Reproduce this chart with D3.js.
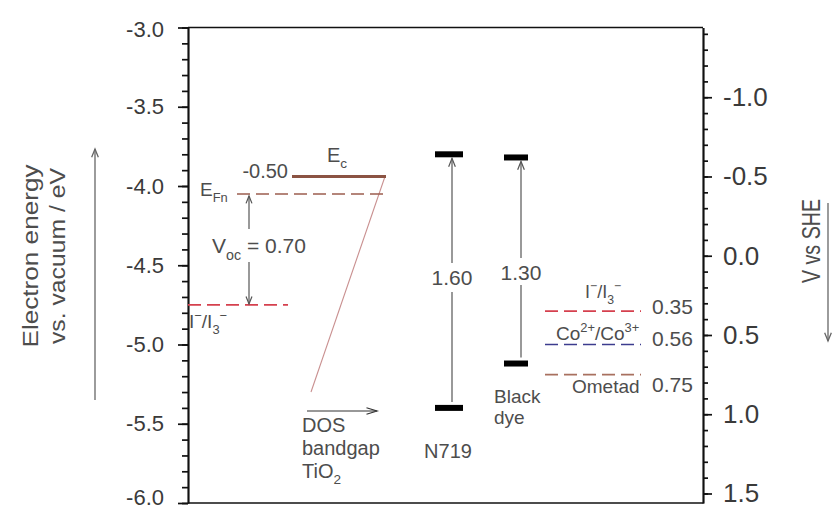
<!DOCTYPE html>
<html>
<head>
<meta charset="utf-8">
<script src="https://cdn.jsdelivr.net/npm/d3@7"></script>
<style>
  body { margin: 0; background: #fff; }
  svg { display: block; }
  text { font-family: "Liberation Sans", Arial, Helvetica, sans-serif; }
</style>
</head>
<body>
<svg id="chart" width="832" height="514"></svg>
<script>
// ---- values ----
const energyDomain = [-3.0, -6.0];              // eV vs vacuum
const energyMajorTicks = [-3.0, -3.5, -4.0, -4.5, -5.0, -5.5, -6.0];
const sheMajorTicks = [-1.0, -0.5, 0.0, 0.5, 1.0, 1.5];
const sheOffset = 4.44;                          // E(vacuum) = -V(SHE) - 4.44

const tio2EcSHE = -0.50;                         // conduction band edge, V vs SHE
const tio2QuasiFermi = -4.05;                    // E_Fn, eV
const vocValue = 0.70;                           // V_oc, eV below E_Fn
const dosBottomEnergy = -5.30;                   // lower end of the DOS sketch

const dyeNames = ["N719", "Black dye"];
const dyeLumo = [-3.80, -3.82];
const dyeGap = [1.60, 1.30];

const mediatorKeys = ["iodide", "cobalt", "ometad"];
const mediatorSHE = [0.35, 0.56, 0.75];
const mediatorColors = ["#d5404e", "#3c3c8e", "#a8705f"];

// ---- layout ----
const W = 832, H = 514;
const plot = { left: 188, right: 703, top: 27.5, bottom: 503 };
const textColor = "#4d4d4d";

const svg = d3.select("#chart");

const y = d3.scaleLinear().domain(energyDomain).range([plot.top, plot.bottom]);
const toSHE = e => -e - sheOffset;
const toEnergy = v => -v - sheOffset;
const ySHE = d3.scaleLinear().domain(energyDomain.map(toSHE)).range([plot.top, plot.bottom]);

// ---- helpers ----
function richText(g, x, yBase, parts, opts = {}) {
  const size = opts.size || 20;
  const t = g.append("text")
    .attr("x", x).attr("y", yBase)
    .attr("font-size", size)
    .attr("fill", opts.fill || textColor)
    .attr("text-anchor", opts.anchor || "start");
  let shift = 0;
  parts.forEach(p => {
    let target = 0, fs = size;
    if (p.sub) { target = size * 0.32; fs = size * 0.68; }
    if (p.sup) { target = -size * 0.42; fs = size * 0.68; }
    t.append("tspan")
      .attr("dy", target - shift)
      .attr("font-size", fs)
      .text(p.t);
    shift = target;
  });
  return t;
}

function arrow(g, x1, y1, x2, y2, opts = {}) {
  const color = opts.color || "#555";
  const head = opts.head || 9;
  const spread = opts.spread || 0.38;
  g.append("line").attr("x1", x1).attr("y1", y1).attr("x2", x2).attr("y2", y2)
    .attr("stroke", color).attr("stroke-width", opts.width || 1.2);
  const ang = Math.atan2(y2 - y1, x2 - x1);
  const p = a => [x2 - head * Math.cos(a), y2 - head * Math.sin(a)];
  const a1 = p(ang + spread), a2 = p(ang - spread);
  g.append("path")
    .attr("d", `M${a1[0]},${a1[1]}L${x2},${y2}L${a2[0]},${a2[1]}`)
    .attr("fill", "none").attr("stroke", color).attr("stroke-width", opts.width || 1.2);
}

// ---- axes ----
const axisColor = "#111";
const leftMinor = d3.range(0, 31).map(i => -3.0 - i * 0.1);
const rightMinor = d3.range(-14, 16).map(i => i / 10);

const gLeftMinor = svg.append("g").attr("transform", `translate(${plot.left},0)`)
  .call(d3.axisLeft(y).tickValues(leftMinor).tickSize(6).tickSizeOuter(0).tickFormat(""));
const gLeft = svg.append("g").attr("transform", `translate(${plot.left},0)`)
  .call(d3.axisLeft(y).tickValues(energyMajorTicks).tickSize(10).tickSizeOuter(0)
    .tickPadding(14).tickFormat(d => d.toFixed(1)));

const gRightMinor = svg.append("g").attr("transform", `translate(${plot.right},0)`)
  .call(d3.axisRight(ySHE).tickValues(rightMinor).tickSize(5).tickSizeOuter(0).tickFormat(""));
const gRight = svg.append("g").attr("transform", `translate(${plot.right},0)`)
  .call(d3.axisRight(ySHE).tickValues(sheMajorTicks).tickSize(9).tickSizeOuter(0)
    .tickPadding(11).tickFormat(d => d.toFixed(1)));

[gLeftMinor, gLeft, gRightMinor, gRight].forEach(g => {
  g.selectAll("path.domain").attr("stroke", axisColor).attr("stroke-width", 1.7);
  g.selectAll(".tick line").attr("stroke", axisColor).attr("stroke-width", 1.7);
});
gLeft.selectAll("text").attr("font-size", 22).attr("fill", "#3a3a3a")
  .attr("font-family", '"Liberation Sans", Arial, sans-serif');
// keep the top and bottom labels inside the frame height
gLeft.selectAll(".tick text").filter(d => d === energyDomain[1]).attr("dy", "0.05em");
gLeft.selectAll(".tick text").filter(d => d === energyDomain[0]).attr("dy", "0.42em");
gRight.selectAll("text").attr("font-size", 26).attr("fill", "#3a3a3a")
  .attr("font-family", '"Liberation Sans", Arial, sans-serif');

// frame top and bottom
svg.append("line").attr("x1", plot.left).attr("x2", plot.right)
  .attr("y1", plot.top).attr("y2", plot.top).attr("stroke", axisColor).attr("stroke-width", 1.7);
svg.append("line").attr("x1", plot.left).attr("x2", plot.right)
  .attr("y1", plot.bottom).attr("y2", plot.bottom).attr("stroke", axisColor).attr("stroke-width", 1.7);

// axis titles
const titles = svg.append("g").attr("fill", textColor);
titles.append("text").attr("transform", "translate(38,256) rotate(-90)")
  .attr("text-anchor", "middle").attr("font-size", 22).attr("fill", textColor)
  .attr("textLength", 183).attr("lengthAdjust", "spacingAndGlyphs")
  .text("Electron energy");
titles.append("text").attr("transform", "translate(65,256) rotate(-90)")
  .attr("text-anchor", "middle").attr("font-size", 22).attr("fill", textColor)
  .attr("textLength", 176).attr("lengthAdjust", "spacingAndGlyphs")
  .text("vs. vacuum / eV");
arrow(titles, 95, 400, 95, 149, { color: "#666", width: 1.3 });

titles.append("text").attr("transform", "translate(820,241) rotate(-90)")
  .attr("text-anchor", "middle").attr("font-size", 25).attr("fill", textColor)
  .attr("textLength", 84).attr("lengthAdjust", "spacingAndGlyphs")
  .text("V vs SHE");
arrow(titles, 828, 203, 828, 341, { color: "#666", width: 1.3 });

// ---- TiO2 side ----
const g = svg.append("g");
const yEc = y(toEnergy(tio2EcSHE));
const yEFn = y(tio2QuasiFermi);
const yRedox = y(tio2QuasiFermi - vocValue);

// density-of-states sketch below the band edge
g.append("line").attr("x1", 385).attr("y1", yEc).attr("x2", 311).attr("y2", y(dosBottomEnergy))
  .attr("stroke", "#c99090").attr("stroke-width", 1.1);

g.append("line").attr("x1", 292).attr("x2", 386).attr("y1", yEc).attr("y2", yEc)
  .attr("stroke", "#8b5343").attr("stroke-width", 3);
g.append("line").attr("x1", 237).attr("x2", 383).attr("y1", yEFn).attr("y2", yEFn)
  .attr("stroke", "#9c5d4f").attr("stroke-width", 1.6).attr("stroke-dasharray", "13,6");
g.append("line").attr("x1", plot.left).attr("x2", 288).attr("y1", yRedox).attr("y2", yRedox)
  .attr("stroke", mediatorColors[0]).attr("stroke-width", 1.7).attr("stroke-dasharray", "13,6");

richText(g, 288, 178, [{ t: tio2EcSHE.toFixed(2) }], { size: 20, anchor: "end" });
richText(g, 327, 162, [{ t: "E" }, { t: "c", sub: true }], { size: 20 });
richText(g, 200, 196, [{ t: "E" }, { t: "Fn", sub: true }], { size: 19 });
richText(g, 189, 328, [{ t: "I" }, { t: "−", sup: true }, { t: "/I" }, { t: "3", sub: true }, { t: "−", sup: true }], { size: 19 });

// open-circuit voltage arrows
const xVoc = 249;
arrow(g, xVoc, 229, xVoc, yEFn + 2, { head: 8 });
arrow(g, xVoc, 262, xVoc, yRedox - 1, { head: 8 });
richText(g, 212, 253, [{ t: "V" }, { t: "oc", sub: true }, { t: " = " + vocValue.toFixed(2) }], { size: 21 });

// DOS arrow and caption
arrow(g, 307, 411, 377, 411, { head: 11, spread: 0.3, color: "#333" });
richText(g, 302, 432, [{ t: "DOS" }], { size: 20 });
richText(g, 302, 455, [{ t: "bandgap" }], { size: 20 });
richText(g, 302, 478, [{ t: "TiO" }, { t: "2", sub: true }], { size: 20 });

// ---- dyes ----
const dyeLayout = [
  { x0: 435, x1: 463, arrowX: 452, labelY: 285, gapTop: 263, gapBottom: 292 },
  { x0: 504, x1: 528, arrowX: 521, labelY: 280, gapTop: 258, gapBottom: 285 }
];
dyeNames.forEach((name, i) => {
  const L = dyeLayout[i];
  const yL = y(dyeLumo[i]);
  const yH = y(dyeLumo[i] - dyeGap[i]);
  g.append("rect").attr("x", L.x0).attr("width", L.x1 - L.x0)
    .attr("y", yL - 3).attr("height", 6).attr("fill", "#000");
  g.append("rect").attr("x", L.x0).attr("width", L.x1 - L.x0)
    .attr("y", yH - 3).attr("height", 6).attr("fill", "#000");
  g.append("line").attr("x1", L.arrowX).attr("x2", L.arrowX)
    .attr("y1", yH - 6).attr("y2", L.gapBottom).attr("stroke", "#555").attr("stroke-width", 1.2);
  arrow(g, L.arrowX, L.gapTop, L.arrowX, yL + 4, { head: 9 });
  richText(g, L.arrowX, L.labelY, [{ t: dyeGap[i].toFixed(2) }], { size: 21, anchor: "middle" });
});
richText(g, 448, 458, [{ t: dyeNames[0] }], { size: 20, anchor: "middle" });
richText(g, 494, 403, [{ t: "Black" }], { size: 19 });
richText(g, 494, 424, [{ t: "dye" }], { size: 19 });

// ---- redox mediators / hole conductor ----
const medLabels = [
  { y: 298, x: 585, parts: [{ t: "I" }, { t: "−", sup: true }, { t: "/I" }, { t: "3", sub: true }, { t: "−", sup: true }], size: 18 },
  { y: 340, x: 556, parts: [{ t: "Co" }, { t: "2+", sup: true }, { t: "/Co" }, { t: "3+", sup: true }], size: 19 },
  { y: 393, x: 572, parts: [{ t: "Ometad" }], size: 19 }
];
const valueBaselines = [314, 346, 392];
mediatorKeys.forEach((k, i) => {
  const yy = ySHE(mediatorSHE[i]);
  g.append("line").attr("x1", 545).attr("x2", 641).attr("y1", yy).attr("y2", yy)
    .attr("stroke", mediatorColors[i]).attr("stroke-width", 1.7).attr("stroke-dasharray", "13,6");
  richText(g, medLabels[i].x, medLabels[i].y, medLabels[i].parts, { size: medLabels[i].size });
  richText(g, 652, valueBaselines[i], [{ t: mediatorSHE[i].toFixed(2) }], { size: 21 });
});
</script>
</body>
</html>
